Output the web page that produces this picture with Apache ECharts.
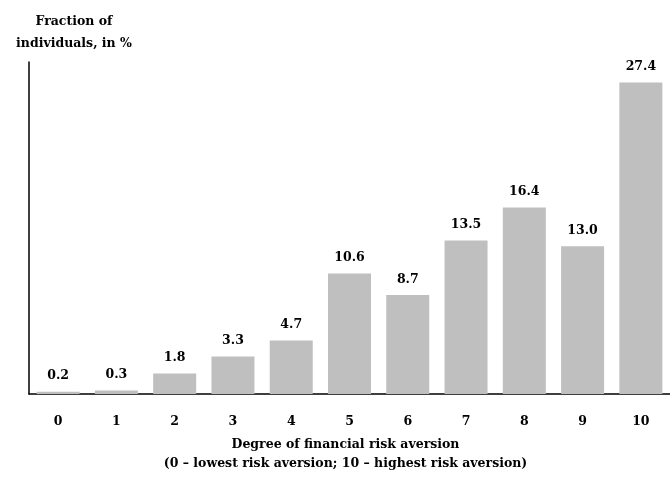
<!DOCTYPE html>
<html>
<head>
<meta charset="utf-8">
<script src="https://cdn.jsdelivr.net/npm/echarts@6/dist/echarts.min.js"></script>
<style>
  html, body { margin: 0; padding: 0; background: #fff; overflow: hidden; }
  #main { width: 670px; height: 478px; }
</style>
</head>
<body>
<div id="main"></div>
<script>
// degree of risk aversion 0..10
var categories = ['0', '1', '2', '3', '4', '5', '6', '7', '8', '9', '10'];
// fraction of individuals, in %
var fractions = [0.2, 0.3, 1.8, 3.3, 4.7, 10.6, 8.7, 13.5, 16.4, 13.0, 27.4];

var yTitle = 'Fraction of\nindividuals, in %';
var xTitle = 'Degree of financial risk aversion\n(0 \u2013 lowest risk aversion; 10 \u2013 highest risk aversion)';

var font = '"DejaVu Serif", "Liberation Serif", serif';

var myChart = echarts.init(document.getElementById('main'));
myChart.setOption({
  animation: false,
  title: {
    text: yTitle,
    left: 69,
    top: 6,
    textAlign: 'center',
    textStyle: {
      fontFamily: font,
      fontWeight: 'bold',
      fontSize: 12.5,
      lineHeight: 22,
      color: '#000'
    }
  },
  grid: {
    left: 29,
    top: 62,
    width: 649,
    height: 338
  },
  xAxis: {
    type: 'category',
    data: categories,
    axisLine: { lineStyle: { color: '#000', width: 1.5 } },
    axisTick: { show: false },
    axisLabel: {
      margin: 21,
      fontFamily: font,
      fontWeight: 'bold',
      fontSize: 12.5,
      color: '#000'
    },
    name: xTitle,
    nameLocation: 'middle',
    nameGap: 41,
    nameTextStyle: {
      fontFamily: font,
      fontWeight: 'bold',
      fontSize: 12.5,
      lineHeight: 19,
      color: '#000',
      verticalAlign: 'top',
      padding: [0, 8, 0, 0]
    }
  },
  yAxis: {
    type: 'value',
    min: 0,
    max: 29.2,
    axisLine: { show: true, lineStyle: { color: '#000', width: 1.5 } },
    axisTick: { show: false },
    axisLabel: { show: false },
    splitLine: { show: false }
  },
  series: [{
    type: 'bar',
    data: fractions,
    barWidth: 43,
    itemStyle: { color: '#bfbfbf' },
    label: {
      show: true,
      position: 'top',
      distance: 9,
      formatter: function (p) { return p.value.toFixed(1); },
      fontFamily: font,
      fontWeight: 'bold',
      fontSize: 12.5,
      color: '#000'
    }
  }]
});
</script>
</body>
</html>
